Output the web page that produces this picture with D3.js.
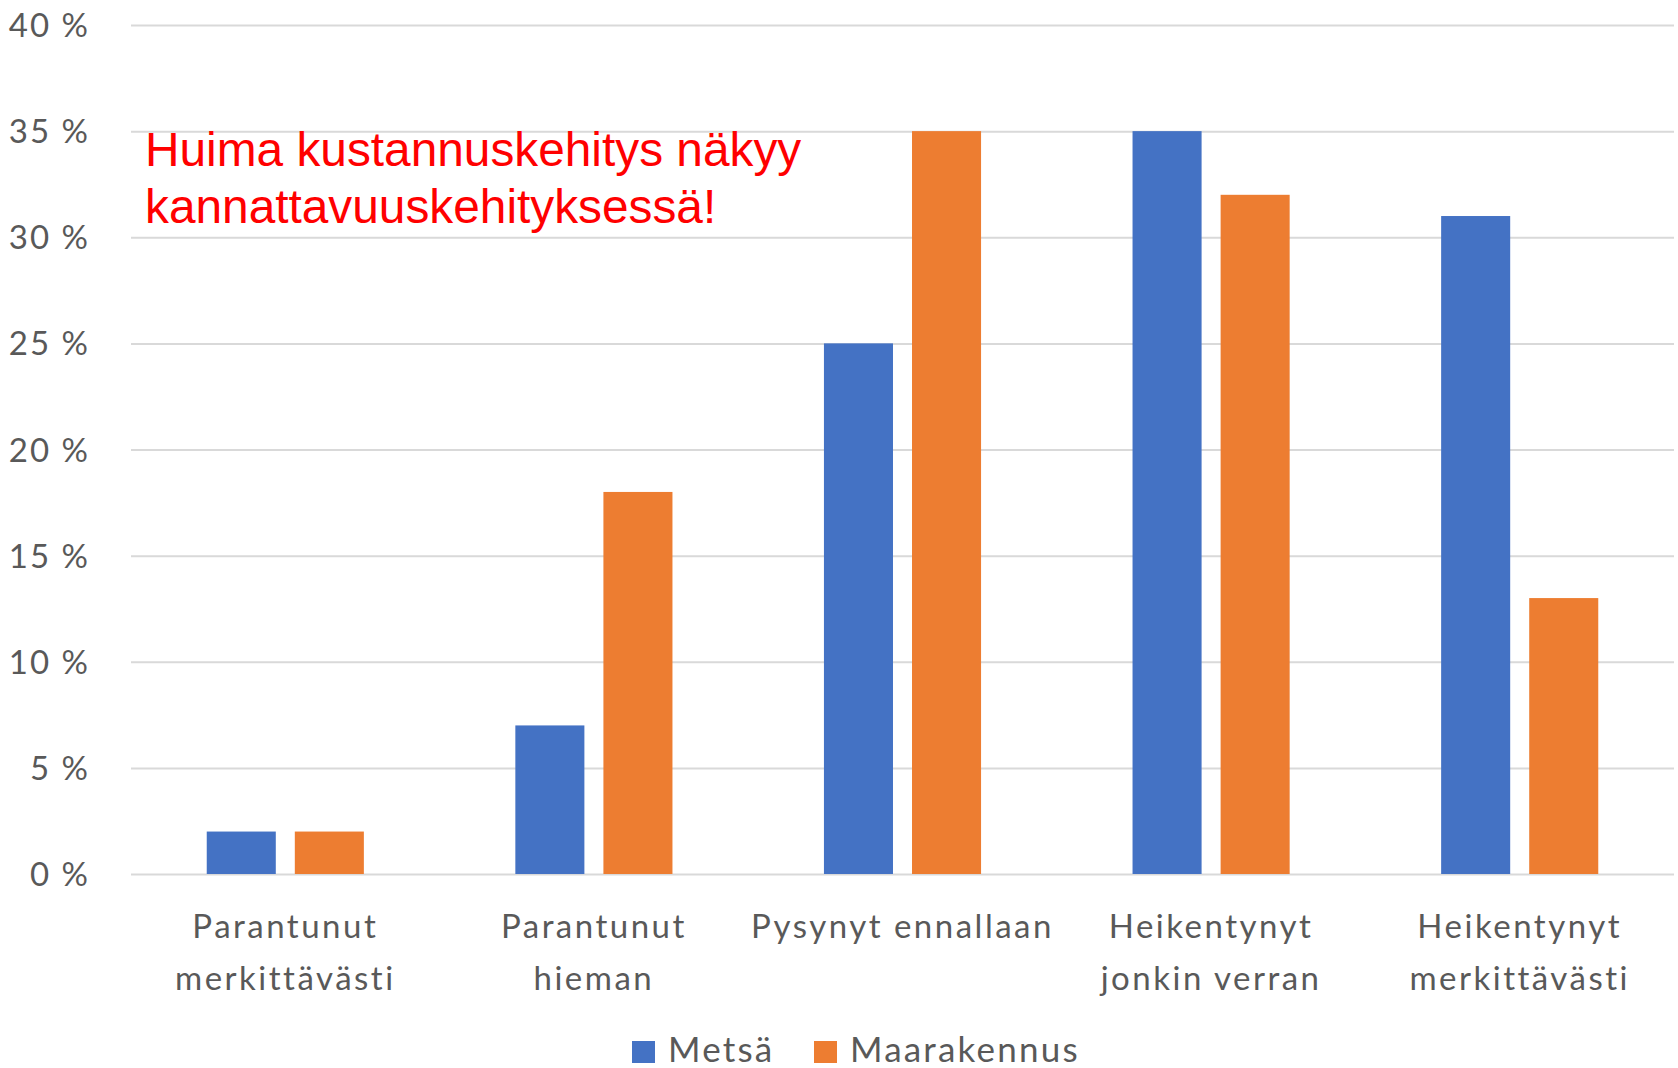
<!DOCTYPE html>
<html>
<head>
<meta charset="utf-8">
<script src="https://cdn.jsdelivr.net/npm/d3@7"></script>
<style>
  body { margin: 0; background: #fff; }
  svg text { font-family: Lato, "Open Sans", sans-serif; }
</style>
</head>
<body>
<svg id="chart" width="1678" height="1068"></svg>
<script>
// data
var categories = ["Parantunut\nmerkittävästi", "Parantunut\nhieman", "Pysynyt ennallaan", "Heikentynyt\njonkin verran", "Heikentynyt\nmerkittävästi"];
var seriesNames = ["Metsä", "Maarakennus"];
var metsa = [2, 7, 25, 35, 31];
var maarakennus = [2, 18, 35, 32, 13];
var yTicks = [0, 5, 10, 15, 20, 25, 30, 35, 40];
var note = ["Huima kustannuskehitys näkyy", "kannattavuuskehityksessä!"];

var colors = ["#4472C4", "#ED7D31"];
// plot area (window.top is taken, so no plain "top")
var plotL = 131, plotR = 1674, plotT = 25, plotB = 874;

var svg = d3.select("#chart");

var x0 = d3.scaleBand().domain(categories).range([plotL, plotR]);
var x1 = d3.scaleBand().domain(seriesNames)
	.range([0, x0.bandwidth()])
	.paddingInner(0.216)
	.paddingOuter(0.86);
var y = d3.scaleLinear().domain([0, 40]).range([plotB, plotT]);

// grid + y labels
var yAxis = svg.append("g")
	.attr("transform", "translate(" + plotL + ",0)")
	.call(d3.axisLeft(y)
		.tickValues(yTicks)
		.tickSize(-(plotR - plotL))
		.tickPadding(41)
		.tickFormat(function(d) { return d + " %"; }));
yAxis.select(".domain").remove();
yAxis.selectAll("line").attr("stroke", "#d9d9d9").attr("stroke-width", 2);
yAxis.selectAll("text")
	.attr("fill", "#595959")
	.attr("font-size", 33)
	.attr("letter-spacing", 2)
	.attr("font-family", "Lato, sans-serif")
	.attr("dy", "0.35em");

// bars
var rows = categories.map(function(c, i) {
	return { cat: c, vals: [metsa[i], maarakennus[i]] };
});
var grp = svg.append("g").selectAll("g").data(rows).join("g")
	.attr("transform", function(d) { return "translate(" + x0(d.cat) + ",0)"; });
grp.selectAll("rect")
	.data(function(d) { return d.vals.map(function(v, j) { return { name: seriesNames[j], v: v, j: j }; }); })
	.join("rect")
	.attr("x", function(d) { return x1(d.name); })
	.attr("width", x1.bandwidth())
	.attr("y", function(d) { return y(d.v); })
	.attr("height", function(d) { return y(0) - y(d.v); })
	.attr("fill", function(d) { return colors[d.j]; });

// category labels
svg.append("g").selectAll("text").data(categories).join("text")
	.attr("text-anchor", "middle")
	.attr("fill", "#595959")
	.attr("font-size", 33)
	.attr("letter-spacing", 2.5)
	.each(function(d) {
		var t = d3.select(this);
		d.split("\n").forEach(function(line, k) {
			t.append("tspan")
				.attr("x", x0(d) + x0.bandwidth() / 2)
				.attr("y", 938 + k * 52)
				.text(line);
		});
	});

// legend
var leg = svg.append("g");
var legX = [632, 814];
seriesNames.forEach(function(n, i) {
	leg.append("rect").attr("x", legX[i]).attr("y", 1041).attr("width", 23).attr("height", 22).attr("fill", colors[i]);
	leg.append("text").attr("x", legX[i] + 36).attr("y", 1062)
		.attr("fill", "#595959").attr("font-size", 35).attr("letter-spacing", 2.2).text(n);
});

// annotation
svg.append("g").selectAll("text").data(note).join("text")
	.attr("x", 145)
	.attr("y", function(d, i) { return 166 + i * 57; })
	.attr("fill", "#FF0000")
	.attr("font-size", 47.8)
	.style("font-family", "'Liberation Sans', Arial, sans-serif")
	.text(function(d) { return d; });
</script>
</body>
</html>
